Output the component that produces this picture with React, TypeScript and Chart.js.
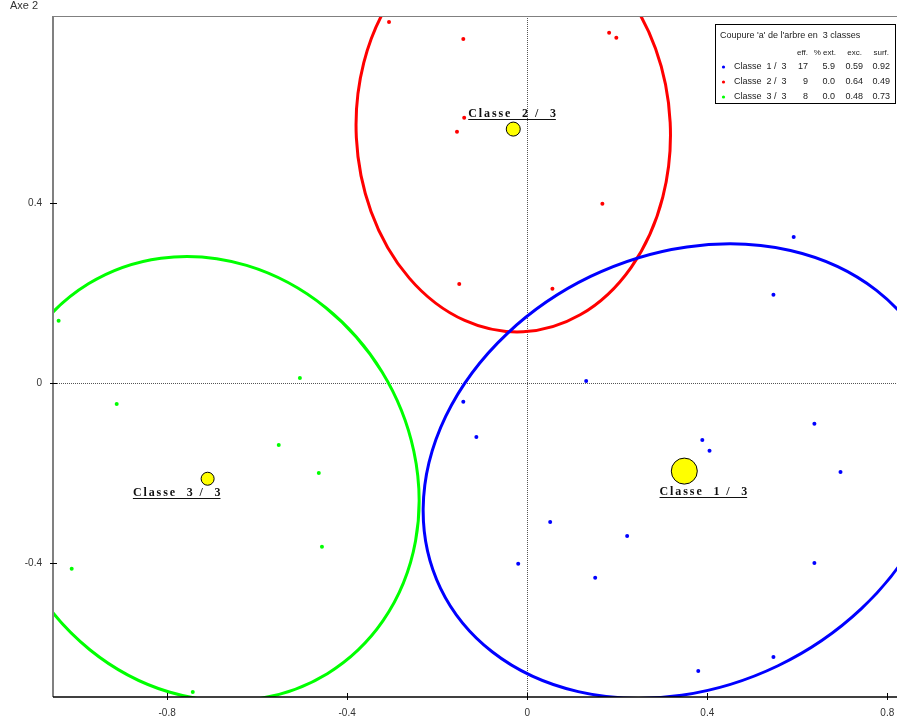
import React, { useEffect, useRef } from "react";
import { Chart, registerables } from "chart.js";
Chart.register(...registerables);

// ---- data ----
const classNames = ["Classe  1 /  3", "Classe  2 /  3", "Classe  3 /  3"];
const legendNames = ["Classe  1 /  3", "Classe  2 /  3", "Classe  3 /  3"];
const classColors = ["#0000FF", "#FF0000", "#00FF00"];

const class1X = [0.592, 0.547, 0.131, -0.142, -0.113, 0.389, 0.405, 0.638, 0.696, 0.051, 0.222, -0.02, 0.151, 0.638, 0.547, 0.38];
const class1Y = [0.324, 0.196, 0.004, -0.042, -0.12, -0.127, -0.151, -0.091, -0.198, -0.309, -0.34, -0.402, -0.433, -0.4, -0.609, -0.64];

const class2X = [-0.307, -0.142, 0.182, 0.198, -0.14, -0.156, 0.167, -0.151, 0.056];
const class2Y = [0.802, 0.764, 0.778, 0.767, 0.589, 0.558, 0.398, 0.22, 0.209];

const class3X = [-1.041, -0.505, -0.912, -0.552, -0.463, -0.456, -1.012, -0.743];
const class3Y = [0.138, 0.011, -0.047, -0.138, -0.2, -0.364, -0.413, -0.687];

const centerX = [0.349, -0.031, -0.71];
const centerY = [-0.196, 0.564, -0.213];

const ellipseCX = [0.349, -0.031, -0.7095];
const ellipseCY = [-0.196, 0.562, -0.213];
const ellipseA = [0.601, 0.449, 0.508];
const ellipseB = [0.48, 0.349, 0.454];
const ellipseAngle = [25.7, 92.8, 121.5];

const labelX = [0.294, -0.131, -0.876];
const labelY = [-0.253, 0.587, -0.256];

const legendTitle = "Coupure 'a' de l'arbre en  3 classes";
const legendHeaders = ["eff.", "% ext.", "exc.", "surf."];
const legendEff = ["17", "9", "8"];
const legendExt = ["5.9", "0.0", "0.0"];
const legendExc = ["0.59", "0.64", "0.48"];
const legendSurf = ["0.92", "0.49", "0.73"];

const xTicks = [-0.8, -0.4, 0, 0.4, 0.8];
const yTicks = [-0.4, 0, 0.4];
const axisTitleY = "Axe 2";

const SANS = "'Liberation Sans', Arial, sans-serif";
const SERIF = "'Liberation Serif', 'Times New Roman', serif";

const toPts = (xs: number[], ys: number[]) => xs.map((x, i) => ({ x, y: ys[i] }));

const decoPlugin = {
  id: "deco",
  beforeDatasetsDraw(chart: any) {
    const { ctx, chartArea: a } = chart;
    const xs = chart.scales.x;
    const ys = chart.scales.y;
    ctx.save();
    ctx.beginPath();
    ctx.rect(a.left, a.top, a.right - a.left, a.bottom - a.top);
    ctx.clip();
    // dotted zero lines
    ctx.strokeStyle = "#555";
    ctx.lineWidth = 1;
    ctx.setLineDash([1, 1]);
    const x0 = Math.round(xs.getPixelForValue(0)) + 0.5;
    const y0 = Math.round(ys.getPixelForValue(0)) + 0.5;
    ctx.beginPath();
    ctx.moveTo(x0, a.top);
    ctx.lineTo(x0, a.bottom);
    ctx.moveTo(a.left, y0);
    ctx.lineTo(a.right, y0);
    ctx.stroke();
    ctx.setLineDash([]);
    // ellipses
    const sx = xs.getPixelForValue(1) - xs.getPixelForValue(0);
    const sy = ys.getPixelForValue(0) - ys.getPixelForValue(1);
    [1, 2, 0].forEach((i) => {
      ctx.save();
      ctx.translate(xs.getPixelForValue(ellipseCX[i]), ys.getPixelForValue(ellipseCY[i]));
      ctx.scale(sx, -sy);
      ctx.rotate((ellipseAngle[i] * Math.PI) / 180);
      ctx.beginPath();
      ctx.ellipse(0, 0, ellipseA[i], ellipseB[i], 0, 0, Math.PI * 2);
      ctx.restore();
      ctx.strokeStyle = classColors[i];
      ctx.lineWidth = 3;
      ctx.stroke();
    });
    ctx.restore();
  },
  afterDraw(chart: any) {
    const { ctx, chartArea: a } = chart;
    const xs = chart.scales.x;
    const ys = chart.scales.y;
    ctx.save();
    // frame
    ctx.strokeStyle = "#808080";
    ctx.lineWidth = 1;
    ctx.beginPath();
    ctx.moveTo(a.left, a.top + 0.5);
    ctx.lineTo(a.right, a.top + 0.5);
    ctx.stroke();
    ctx.lineWidth = 2;
    ctx.beginPath();
    ctx.moveTo(a.left, a.top);
    ctx.lineTo(a.left, a.bottom);
    ctx.stroke();
    ctx.strokeStyle = "#000";
    ctx.lineWidth = 1.5;
    ctx.beginPath();
    ctx.moveTo(a.left, a.bottom);
    ctx.lineTo(a.right, a.bottom);
    ctx.stroke();
    // ticks
    ctx.lineWidth = 1;
    ctx.strokeStyle = "#000";
    ctx.beginPath();
    xTicks.forEach((v) => {
      const px = Math.round(xs.getPixelForValue(v)) + 0.5;
      ctx.moveTo(px, a.bottom - 4);
      ctx.lineTo(px, a.bottom + 3);
    });
    yTicks.forEach((v) => {
      const py = Math.round(ys.getPixelForValue(v)) + 0.5;
      ctx.moveTo(a.left - 3, py);
      ctx.lineTo(a.left + 4, py);
    });
    ctx.stroke();

    // class labels
    ctx.fillStyle = "#111";
    ctx.strokeStyle = "#111";
    ctx.font = `bold 12px ${SERIF}`;
    ctx.textAlign = "left";
    ctx.textBaseline = "alphabetic";
    (ctx as any).letterSpacing = "1.9px";
    classNames.forEach((name, i) => {
      const lx = xs.getPixelForValue(labelX[i]);
      const ly = ys.getPixelForValue(labelY[i]);
      ctx.fillText(name, lx, ly - 2);
      const w = ctx.measureText(name).width;
      ctx.lineWidth = 1;
      ctx.beginPath();
      ctx.moveTo(lx, Math.round(ly) + 0.5);
      ctx.lineTo(lx + w - 2, Math.round(ly) + 0.5);
      ctx.stroke();
    });
    (ctx as any).letterSpacing = "0px";

    // axis title
    ctx.font = `11px ${SANS}`;
    ctx.fillStyle = "#333";
    ctx.textAlign = "left";
    ctx.fillText(axisTitleY, 10, 9);

    // legend box
    const bx = 715, by = 24, bw = 180, bh = 79;
    ctx.fillStyle = "#fff";
    ctx.fillRect(bx, by, bw, bh);
    ctx.strokeStyle = "#000";
    ctx.lineWidth = 1;
    ctx.strokeRect(bx + 0.5, by + 0.5, bw, bh);
    ctx.fillStyle = "#222";
    ctx.font = `9px ${SANS}`;
    ctx.textBaseline = "middle";
    ctx.textAlign = "left";
    ctx.fillText(legendTitle, 720, 36);
    const colRight = [808, 836, 862, 889];
    ctx.font = `8px ${SANS}`;
    ctx.textAlign = "right";
    legendHeaders.forEach((h, j) => ctx.fillText(h, colRight[j], 53));
    ctx.font = `9px ${SANS}`;
    const rowY = [67, 82, 97];
    legendNames.forEach((n, i) => {
      const y = rowY[i];
      ctx.fillStyle = classColors[i];
      ctx.beginPath();
      ctx.arc(723.5, y, 1.6, 0, Math.PI * 2);
      ctx.fill();
      ctx.fillStyle = "#222";
      ctx.textAlign = "left";
      ctx.fillText(n, 734, y);
      ctx.textAlign = "right";
      ctx.fillText(legendEff[i], 808, y);
      ctx.fillText(legendExt[i], 835, y);
      ctx.fillText(legendExc[i], 863, y);
      ctx.fillText(legendSurf[i], 890, y);
    });
    ctx.restore();
  },
};

export default function App() {
  const ref = useRef<HTMLCanvasElement | null>(null);
  useEffect(() => {
    if (!ref.current) return;
    const pointDs = (xs: number[], ys: number[], color: string) => ({
      data: toPts(xs, ys),
      backgroundColor: color,
      borderColor: color,
      pointRadius: 2,
      pointBorderWidth: 0,
      pointHoverRadius: 2,
    });
    const chart = new Chart(ref.current, {
      type: "scatter",
      data: {
        datasets: [
          pointDs(class1X, class1Y, classColors[0]),
          pointDs(class2X, class2Y, classColors[1]),
          pointDs(class3X, class3Y, classColors[2]),
          {
            data: toPts(centerX, centerY),
            backgroundColor: "#FFFF00",
            borderColor: "#000",
            borderWidth: 1,
            pointRadius: [13, 7, 6.5],
            pointHoverRadius: [13, 7, 6.5],
          } as any,
        ],
      },
      options: {
        responsive: false,
        animation: false,
        devicePixelRatio: 1,
        events: [],
        layout: { padding: { top: 16, right: 6, left: 0, bottom: 0 } },
        plugins: { legend: { display: false }, tooltip: { enabled: false } },
        scales: {
          x: {
            type: "linear",
            min: -1.0535,
            max: 0.8615,
            afterBuildTicks: (s: any) => {
              s.ticks = xTicks.map((v) => ({ value: v }));
            },
            afterFit: (s: any) => {
              s.height = 21;
              s.paddingLeft = 0;
              s.paddingRight = 0;
            },
            grid: { display: false },
            border: { display: false },
            ticks: {
              font: { size: 10, family: SANS },
              color: "#333",
              padding: 2,
              maxRotation: 0,
              callback: (v: any) => String(v),
            },
          },
          y: {
            type: "linear",
            min: -0.698,
            max: 0.8153,
            afterBuildTicks: (s: any) => {
              s.ticks = yTicks.map((v) => ({ value: v }));
            },
            afterFit: (s: any) => {
              s.width = 53;
              s.paddingTop = 0;
              s.paddingBottom = 0;
            },
            grid: { display: false },
            border: { display: false },
            ticks: {
              font: { size: 10, family: SANS },
              color: "#333",
              padding: 3,
              callback: (v: any) => String(v),
            },
          },
        },
      },
      plugins: [decoPlugin],
    });
    return () => chart.destroy();
  }, []);
  return (
    <div
      style={{
        position: "fixed",
        left: 0,
        top: 0,
        width: 897,
        height: 718,
        overflow: "hidden",
        background: "#fff",
      }}
    >
      <canvas ref={ref} width={929} height={718} style={{ display: "block" }} />
    </div>
  );
}
